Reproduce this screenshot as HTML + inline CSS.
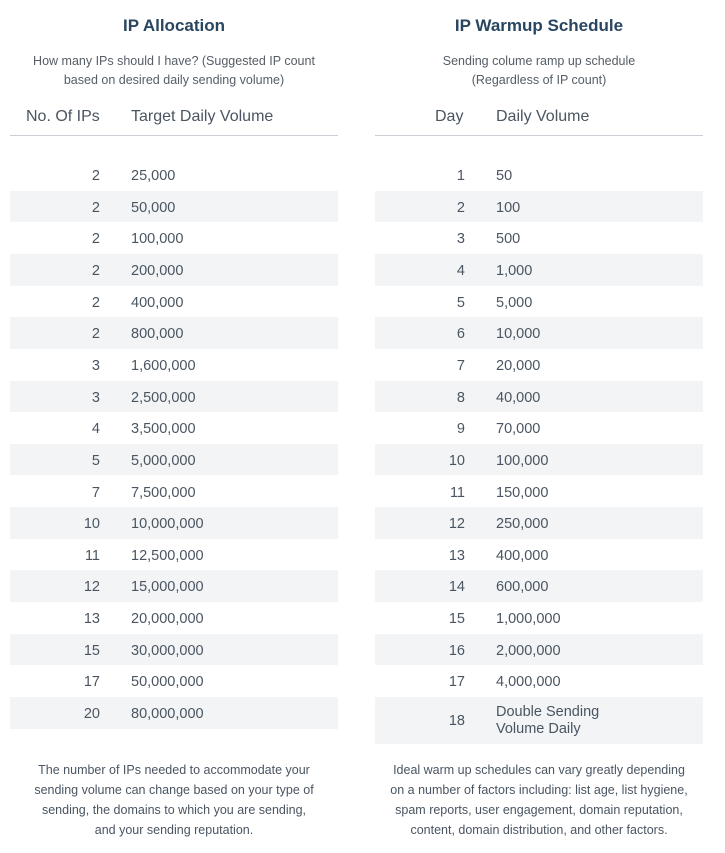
<!DOCTYPE html>
<html><head><meta charset="utf-8"><style>
*{margin:0;padding:0;box-sizing:border-box}
body{width:725px;height:853px;background:#fff;font-family:"Liberation Sans",sans-serif;position:relative;overflow:hidden;color:#4b5563}
.a{position:absolute;white-space:nowrap}
.t{font-weight:bold;font-size:17px;color:#294661;text-align:center;width:330px}
.s{font-size:12.5px;color:#555d66;text-align:center;line-height:19px;width:340px}
.h{font-size:16px;color:#4a5561}
.line{position:absolute;height:1px;background:#c9cfd5;top:135px}
.bg{position:absolute;background:#f2f4f5}
.n{position:absolute;font-size:14.5px;color:#4a5561;text-align:right;width:60px}
.v{position:absolute;font-size:14.5px;color:#4a5561}
.f{font-size:12.5px;color:#4a5561;text-align:center;line-height:20px;width:340px}
</style></head><body>
<div class="a t" style="left:9px;top:16px">IP Allocation</div>
<div class="a t" style="left:374px;top:16px">IP Warmup Schedule</div>
<div class="a s" style="left:4px;top:52px">How many IPs should I have? (Suggested IP count<br>based on desired daily sending volume)</div>
<div class="a s" style="left:369px;top:52px">Sending colume ramp up schedule<br>(Regardless of IP count)</div>
<div class="a h" style="left:26px;top:108px">No. Of IPs</div>
<div class="a h" style="left:131px;top:108px">Target Daily Volume</div>
<div class="a h" style="left:435px;top:108px">Day</div>
<div class="a h" style="left:496px;top:108px">Daily Volume</div>
<div class="line" style="left:10px;width:328px"></div>
<div class="line" style="left:375px;width:328px"></div>
<div id="rows"></div>
<div class="a f" style="left:4px;top:760px">The number of IPs needed to accommodate your<br>sending volume can change based on your type of<br>sending, the domains to which you are sending,<br>and your sending reputation.</div>
<div class="a f" style="left:369px;top:760px">Ideal warm up schedules can vary greatly depending<br>on a number of factors including: list age, list hygiene,<br>spam reports, user engagement, domain reputation,<br>content, domain distribution, and other factors.</div>
<script>
(function(){
var L=[[2,"25,000"],[2,"50,000"],[2,"100,000"],[2,"200,000"],[2,"400,000"],[2,"800,000"],[3,"1,600,000"],[3,"2,500,000"],[4,"3,500,000"],[5,"5,000,000"],[7,"7,500,000"],[10,"10,000,000"],[11,"12,500,000"],[12,"15,000,000"],[13,"20,000,000"],[15,"30,000,000"],[17,"50,000,000"],[20,"80,000,000"]];
var R=["50","100","500","1,000","5,000","10,000","20,000","40,000","70,000","100,000","150,000","250,000","400,000","600,000","1,000,000","2,000,000","4,000,000"];
var h="",rh=31.65;
for(var i=0;i<18;i++){var yy=159+i*rh;
if(i%2==1){h+='<div class="bg" style="left:10px;width:328px;top:'+yy+'px;height:'+rh+'px"></div>';
h+='<div class="bg" style="left:375px;width:328px;top:'+yy+'px;height:'+(i==17?47:rh)+'px"></div>';}
var ty=yy+9;
h+='<div class="n" style="left:40px;top:'+ty+'px">'+L[i][0]+'</div><div class="v" style="left:131px;top:'+ty+'px">'+L[i][1]+'</div>';
if(i<17)h+='<div class="n" style="left:405px;top:'+ty+'px">'+(i+1)+'</div><div class="v" style="left:496px;top:'+ty+'px">'+R[i]+'</div>';
else h+='<div class="n" style="left:405px;top:'+(ty+7)+'px">18</div><div class="v" style="left:496px;top:'+(ty-2)+'px;line-height:17px">Double Sending<br>Volume Daily</div>';}
document.getElementById('rows').innerHTML=h;
})();
</script>
</body></html>
